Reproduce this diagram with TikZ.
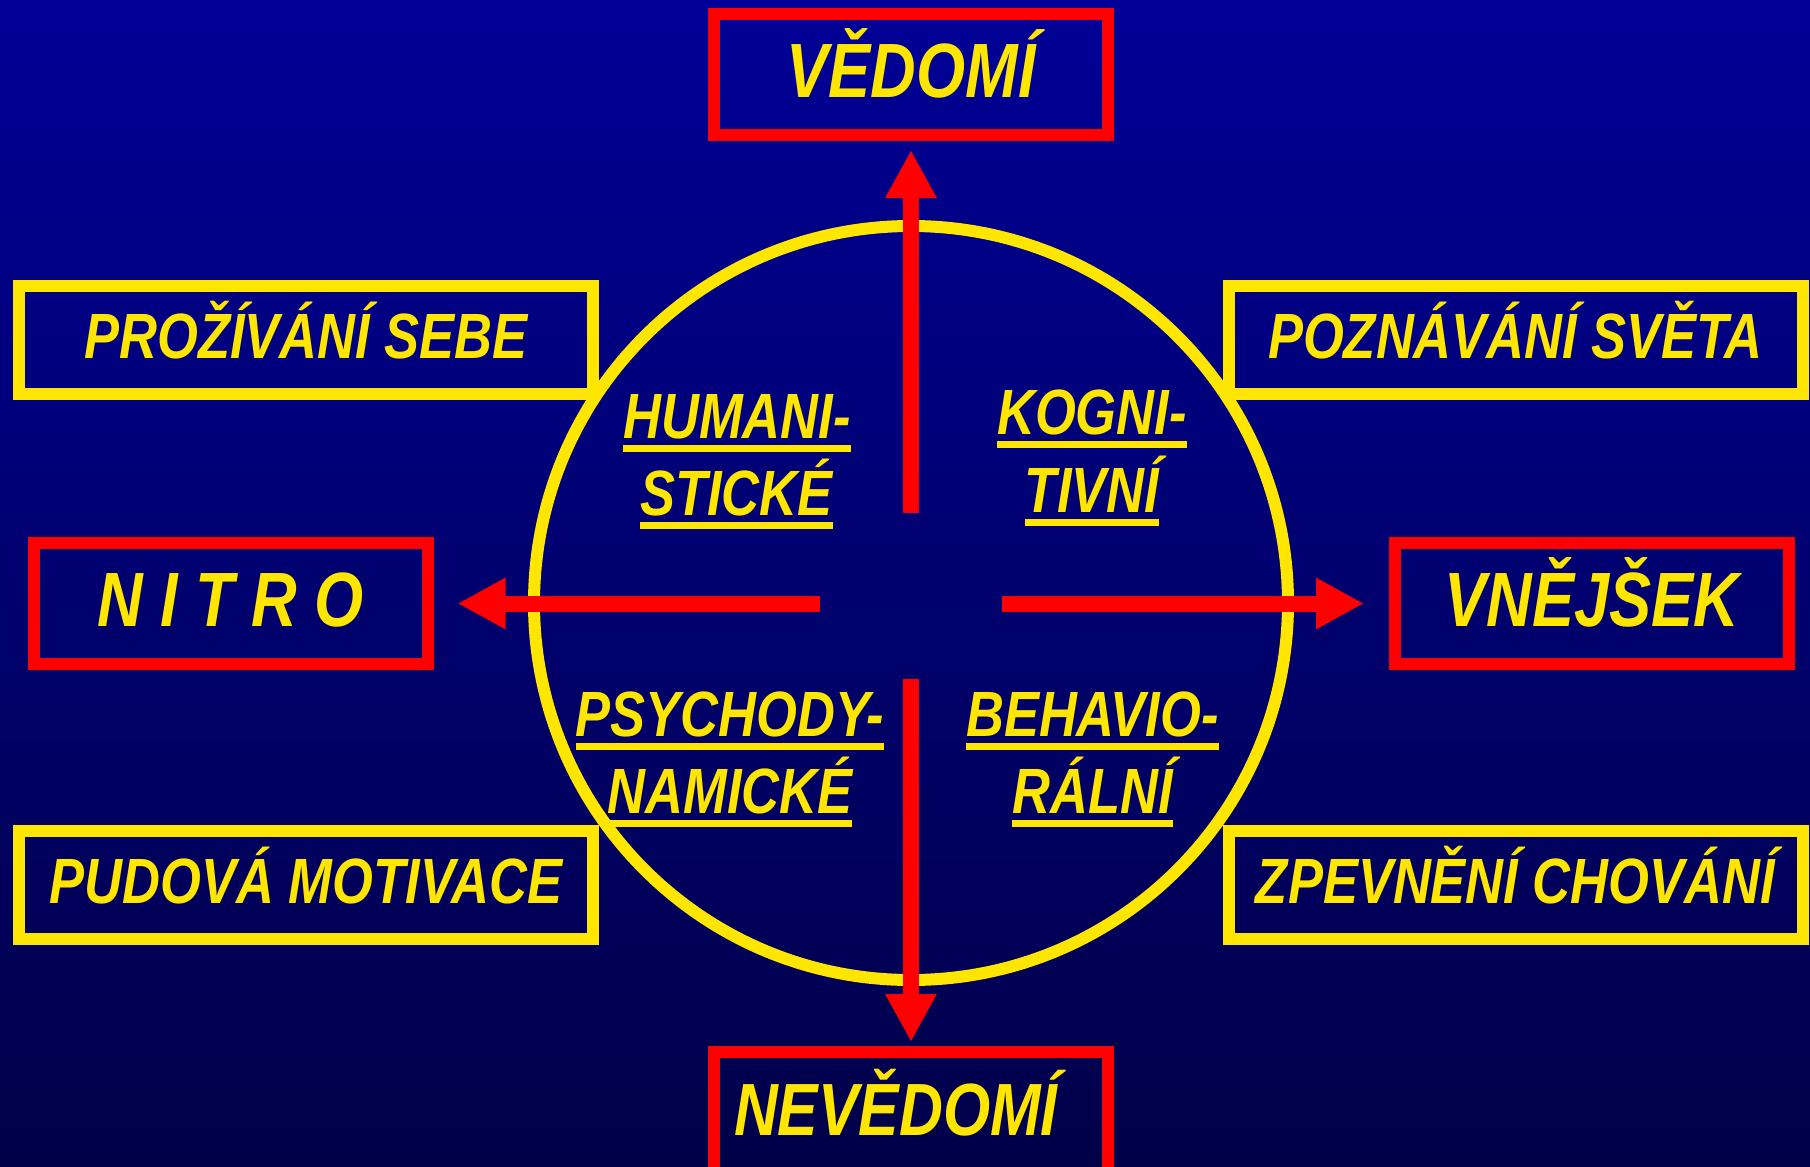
\documentclass[tikz,border=0pt]{standalone}
\usepackage{fontspec}
\usetikzlibrary{arrows.meta}
\newfontfamily\lab{Liberation Sans}[FakeStretch=0.82]
\definecolor{redc}{RGB}{255,0,0}
\definecolor{yel}{RGB}{255,230,0}
\definecolor{bgtop}{RGB}{0,0,150}
\definecolor{bgbot}{RGB}{0,0,72}
\newcommand\bigf{\lab\bfseries\itshape\fontsize{77}{80}\selectfont}
\newcommand\smallf{\lab\bfseries\itshape\fontsize{64}{70}\selectfont}
\newcommand\ulw[1]{\setbox0=\hbox{#1}\dp0=0pt\vtop{\copy0\kern7pt\hrule height 7pt}}
\tikzset{
  redbox/.style={draw=redc, line width=12pt, minimum width=394pt, minimum height=121pt,
    inner sep=0pt, outer sep=0pt, text=yel, font=\bigf, text height=55pt, text depth=9pt},
  yelbox/.style={draw=yel, line width=12pt, minimum width=574pt, minimum height=108pt,
    inner sep=0pt, outer sep=0pt, text=yel, font=\smallf, text height=46pt, text depth=9pt},
  quad/.style={anchor=base, inner sep=0pt, outer sep=0pt, text=yel, font=\smallf},
  arr/.style={draw=redc, line width=16pt, -{Triangle[length=48pt,width=48pt]}}
}
\begin{document}
\begin{tikzpicture}[x=1pt,y=-1pt]
\useasboundingbox (0,0) rectangle (1810,1167);
\clip (0,0) rectangle (1810,1167);
\shade[top color=bgtop,bottom color=bgbot] (0,0) rectangle (1810,1167);
% circle
\draw[yel, line width=12pt] (911,603) circle[radius=377];
% red boxes
\node[redbox] (ved) at (911,74.5) {VĚDOMÍ};
\node[redbox, font=\lab\bfseries\itshape\fontsize{74}{78}\selectfont] (nev) at (911,1112.5) {NEVĚDOMÍ\kern30pt\hbox{}};
\node[redbox] (nit) at (230.5,603.5) {N I T R O};
\node[redbox] (vne) at (1592,603.5) {VNĚJŠEK};
% yellow boxes
\node[yelbox] (pro) at (306,340) {PROŽÍVÁNÍ SEBE};
\node[yelbox] (poz) at (1515.5,340) {POZNÁVÁNÍ SVĚTA};
\node[yelbox] (pud) at (306,884.5) {PUDOVÁ MOTIVACE};
\node[yelbox] (zpe) at (1515.5,884.5) {ZPEVNĚNÍ CHOVÁNÍ};
% quadrant labels
\node[quad] (hum1) at (737,438) {\ulw{HUMANI-}};
\node[quad] (hum2) at (736.5,515) {\ulw{STICKÉ}};
\node[quad] (kog1) at (1092,434) {\ulw{KOGNI-}};
\node[quad] (kog2) at (1092,512) {\ulw{TIVNÍ}};
\node[quad] (psy1) at (730,736) {\ulw{PSYCHODY-}};
\node[quad] (psy2) at (730,813) {\ulw{NAMICKÉ}};
\node[quad] (beh1) at (1092.5,736) {\ulw{BEHAVIO-}};
\node[quad] (beh2) at (1092.5,813) {\ulw{RÁLNÍ}};
% arrows
\coordinate (cu) at (911,513);
\coordinate (cd) at (911,679);
\coordinate (cl) at (820,603.5);
\coordinate (cr) at (1002,603.5);
\draw[arr, shorten >=15pt] (cu) -- (ved.south);
\draw[arr, shorten >=10pt] (cd) -- (nev.north);
\draw[arr, shorten >=30pt] (cl) -- (nit.east);
\draw[arr, shorten >=31pt] (cr) -- (vne.west);
\end{tikzpicture}
\end{document}
